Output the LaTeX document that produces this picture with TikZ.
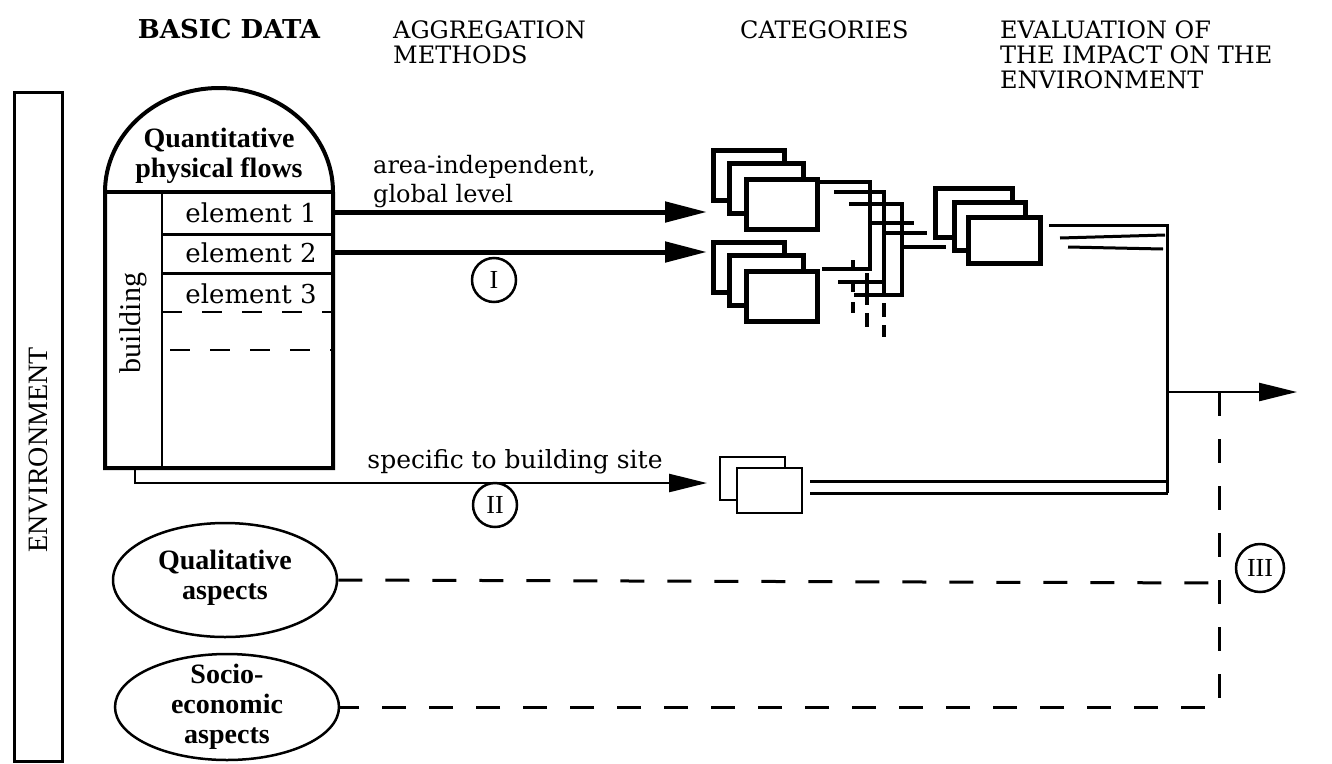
\documentclass[tikz,border=0pt]{standalone}
\usepackage{fontspec}
\setmainfont{Liberation Serif}
\newfontfamily\slab{DejaVu Serif}
\usetikzlibrary{arrows.meta,shapes.geometric}
\begin{document}
\begin{tikzpicture}[x=1pt,y=-1pt,
  hdr/.style={font=\slab\fontsize{24}{25}\selectfont, anchor=base west, inner sep=0pt},
  lbl/.style={font=\slab\fontsize{24}{30}\selectfont, inner sep=0pt},
  elem/.style={font=\slab\fontsize{26}{28}\selectfont, inner sep=0pt},
  fancy/.style={font=\bfseries\fontsize{28}{30}\selectfont, inner sep=0pt, align=center},
  catbox/.style={draw, fill=white, line width=5pt, inner sep=0pt},
  sitebox/.style={draw, fill=white, line width=2.5pt, inner sep=0pt},
  num/.style={draw, circle, line width=2.5pt, inner sep=0pt, font=\fontsize{26}{26}\selectfont},
  bigarrow/.style={line width=5pt, -{Triangle[length=42pt,width=20pt]}},
  thinarrow/.style={line width=2.5pt, -{Triangle[length=38pt,width=18pt]}},
  wire/.style={line width=3.5pt},
  outwire/.style={line width=3pt},
  dashwire/.style={line width=3pt, dash pattern=on 24pt off 23pt},
  innerdash/.style={line width=2.5pt, dash pattern=on 20pt off 20pt},
]
\useasboundingbox (0,0) rectangle (1332,763);

% ---------- headers ----------
\node[font=\slab\bfseries\fontsize{26}{26}\selectfont, anchor=base, inner sep=0pt] (hbasic) at (229,38) {BASIC DATA};
\node[hdr] (hagg1) at (393,38) {AGGREGATION};
\node[hdr] (hagg2) at (393,63) {METHODS};
\node[hdr] (hcat) at (740,38) {CATEGORIES};
\node[hdr] (heval1) at (1000,38) {EVALUATION OF};
\node[hdr] (heval2) at (1000,63) {THE IMPACT ON THE};
\node[hdr] (heval3) at (1000,88) {ENVIRONMENT};

% ---------- environment bar ----------
\node[draw, line width=3pt, minimum width=48pt, minimum height=669pt, inner sep=0pt] (envbox) at (38,426.5) {};
\node[rotate=90, font=\fontsize{28}{28}\selectfont, inner sep=0pt] (envtxt) at (38,450) {ENVIRONMENT};

% ---------- quantitative physical flows ----------
\draw[line width=4pt, fill=white] (105,468) -- (105,192)
   .. controls (105,134.6) and (156,88) .. (219,88)
   .. controls (282,88) and (333,134.6) .. (333,192) -- (333,468) -- cycle;
\draw[line width=4pt] (105,192) -- (333,192);
\draw[line width=2.5pt] (162,192) -- (162,468);
\draw[line width=3pt] (162,234) -- (333,234);
\draw[line width=3pt] (162,273) -- (333,273);
\draw[innerdash] (162,312) -- (333,312);
\draw[innerdash] (170,350) -- (333,350);
\node[fancy] (qpf) at (219,156) {Quantitative\\physical flows};
\node[elem] (el1) at (251,213) {element 1};
\node[elem] (el2) at (251,253) {element 2};
\node[elem] (el3) at (251,294) {element 3};
\node[rotate=90, font=\fontsize{30}{30}\selectfont, inner sep=0pt] (bldg) at (133,323) {building};

% ---------- aggregation arrows ----------
\coordinate (a1s) at (333,212);
\coordinate (a1e) at (707,212);
\coordinate (a2s) at (333,252);
\coordinate (a2e) at (707,252);
\draw[bigarrow] (a1s) -- (a1e);
\draw[bigarrow] (a2s) -- (a2e);
\node[lbl, anchor=base west] (areatxt1) at (373,173) {area-independent,};
\node[lbl, anchor=base west] (areatxt2) at (373,202) {global level};
\node[num, minimum size=44pt] (circI) at (494,280) {I};

\coordinate (bs) at (135,470);
\coordinate (be) at (707,483);
\draw[thinarrow] (bs) |- (be);
\node[lbl, font=\slab\fontsize{25}{28}\selectfont] (sitetxt) at (515,462) {specific to building site};
\node[num, minimum size=44pt] (circII) at (495,505) {II};

% ---------- categories ----------
\node[catbox, minimum width=71pt, minimum height=50pt] (g1a) at (748.5,175) {};
\node[catbox, minimum width=74pt, minimum height=50pt] (g1b) at (766,188) {};
\node[catbox, minimum width=71pt, minimum height=50pt] (g1c) at (781.5,204) {};
\node[catbox, minimum width=71pt, minimum height=50pt] (g2a) at (748.5,267) {};
\node[catbox, minimum width=74pt, minimum height=50pt] (g2b) at (766,280) {};
\node[catbox, minimum width=71pt, minimum height=50pt] (g2c) at (781.5,296) {};
\node[catbox, minimum width=77pt, minimum height=49pt] (g3a) at (973.5,212.5) {};
\node[catbox, minimum width=71pt, minimum height=48pt] (g3b) at (989.5,226) {};
\node[catbox, minimum width=72pt, minimum height=46pt] (g3c) at (1004,240) {};
\node[sitebox, minimum width=65pt, minimum height=43pt] (sa) at (752.5,478.5) {};
\node[sitebox, minimum width=65pt, minimum height=45pt] (sb) at (769.5,490.5) {};

% ---------- connection tangle ----------
\draw[wire] (820,182) -- (870,182) -- (870,269) -- (822,269);
\draw[wire] (853,260) -- (853,269);
\draw[wire] (834,192) -- (884,192) -- (884,296);
\draw[wire] (849,204) -- (902,204) -- (902,295) -- (854,295);
\draw[wire] (872,223) -- (914,223);
\draw[wire] (885,233) -- (927,233);
\draw[wire] (902,247) -- (946,247);
\draw[wire] (838,282) -- (883,282);
\draw[wire] (867,273) -- (867,305);
\draw[wire] (853,282) -- (853,292);
\draw[wire] (853,302) -- (853,313);
\draw[wire] (867,313) -- (867,327);
\draw[wire] (884,303) -- (884,317);
\draw[wire] (884,325) -- (884,337);

% ---------- evaluation ----------
\coordinate (j) at (1167,392);
\coordinate (out) at (1297,392);
\draw[outwire] (1049,225) -- (1167,225);
\draw[outwire] (1060,238) -- (1165,235);
\draw[outwire] (1068,247) -- (1163,249);
\draw[outwire] (1167,224) -- (1167,493);
\draw[outwire] (810,481) -- (1167,481);
\draw[outwire] (810,493) -- (1168,493);
\draw[thinarrow] (j) -- (out);

% ---------- qualitative / socio-economic ----------
\node[draw, ellipse, line width=2.5pt, minimum width=224pt, minimum height=114pt, inner sep=0pt] (qual) at (225,580) {};
\node[fancy] (qualtxt) at (225,578) {Qualitative\\aspects};
\node[draw, ellipse, line width=2.5pt, minimum width=224pt, minimum height=106pt, inner sep=0pt] (socio) at (227,707) {};
\node[fancy] (sociotxt) at (227,707) {Socio-\\economic\\aspects};

\coordinate (d3top) at (1219,392);
\coordinate (d3q) at (1219,583);
\coordinate (d3s) at (1219,707);
\draw[dashwire] (d3top) -- (d3s) -- (socio.east);
\draw[dashwire] (qual.east) -- (d3q);
\node[num, minimum size=48pt] (circIII) at (1260,568) {III};
\end{tikzpicture}
\end{document}
